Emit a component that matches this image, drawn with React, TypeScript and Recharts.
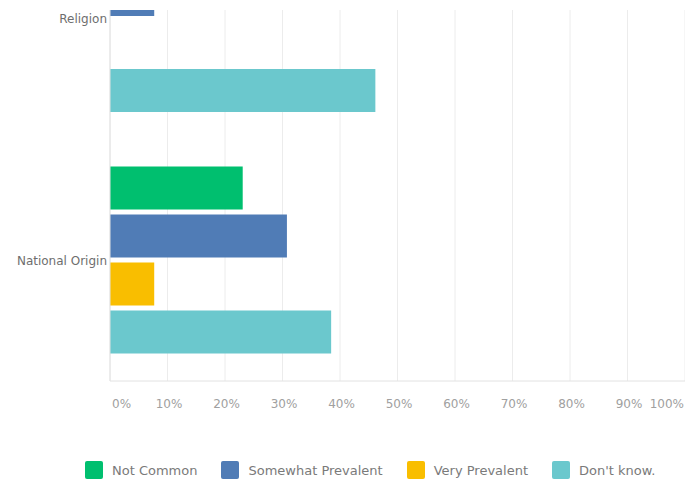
import { BarChart, Bar, XAxis, YAxis, CartesianGrid, Legend } from "recharts";

const categories = ["Religion", "National Origin"];
const notCommon = [46.15, 23.08];
const somewhatPrevalent = [7.69, 30.77];
const veryPrevalent = [0, 7.69];
const dontKnow = [46.15, 38.46];
const xTicks = [0, 10, 20, 30, 40, 50, 60, 70, 80, 90, 100];

const SERIES = [
  { key: "notCommon", name: "Not Common", color: "#00bf6f" },
  { key: "somewhat", name: "Somewhat Prevalent", color: "#507cb6" },
  { key: "very", name: "Very Prevalent", color: "#f9be00" },
  { key: "dontKnow", name: "Don't know.", color: "#6bc8cd" },
];

const data = categories.map((name, i) => ({
  name,
  notCommon: notCommon[i],
  somewhat: somewhatPrevalent[i],
  very: veryPrevalent[i],
  dontKnow: dontKnow[i],
}));

const FONT = "'DejaVu Sans', sans-serif";

function XTick(props: any) {
  const { x, y, payload, index } = props;
  let anchor: "start" | "middle" | "end" = "middle";
  let tx = x + 1.5;
  if (index === 0) {
    anchor = "start";
    tx = x + 2;
  } else if (payload.value === 100) {
    anchor = "end";
    tx = x - 1;
  }
  return (
    <text x={tx} y={y + 27} textAnchor={anchor} fontSize={12} fill="#a0a0a0" fontFamily={FONT}>
      {payload.value}%
    </text>
  );
}

function LegendContent() {
  return (
    <div style={{ display: "flex", alignItems: "center", height: 20, fontFamily: FONT, fontSize: 13, color: "#7a7a7a" }}>
      {SERIES.map((s) => (
        <div key={s.key} style={{ display: "flex", alignItems: "center", marginRight: 24 }}>
          <span
            style={{
              display: "inline-block",
              width: 18,
              height: 18,
              borderRadius: 2,
              background: s.color,
              marginRight: 9,
            }}
          />
          <span style={{ whiteSpace: "nowrap" }}>{s.name}</span>
        </div>
      ))}
    </div>
  );
}

export default function App() {
  return (
    <div
      style={{
        position: "absolute",
        top: 0,
        left: 0,
        width: 685,
        height: 485,
        overflow: "hidden",
        background: "#fff",
      }}
    >
      <div style={{ position: "absolute", top: -102, left: 0 }}>
        <BarChart
          width={685}
          height={587}
          data={data}
          layout="vertical"
          margin={{ top: 0, right: 0, bottom: 5, left: 0 }}
          barGap={5}
          style={{ fontFamily: FONT }}
        >
          <CartesianGrid horizontal={false} stroke="#ececec" />
          <XAxis
            type="number"
            domain={[0, 100]}
            ticks={xTicks}
            interval={0}
            height={79}
            tickSize={0}
            tickMargin={0}
            tickLine={false}
            axisLine={{ stroke: "#e2e2e2" }}
            tick={<XTick />}
          />
          <YAxis
            type="category"
            dataKey="name"
            width={110}
            tickSize={0}
            tickMargin={3}
            tickLine={false}
            axisLine={{ stroke: "#e2e2e2" }}
            tick={{ fontSize: 12, fill: "#6e6e6e", fontFamily: FONT }}
          />
          {SERIES.map((s) => (
            <Bar
              key={s.key}
              dataKey={s.key}
              name={s.name}
              fill={s.color}
              barSize={43}
              isAnimationActive={false}
            />
          ))}
          <Legend
            verticalAlign="bottom"
            content={<LegendContent />}
            wrapperStyle={{ left: 85, width: 600, height: 20 }}
          />
        </BarChart>
      </div>
      {/* the source view is cut off by a white band at the very top */}
      <div
        style={{
          position: "absolute",
          top: 0,
          left: 108,
          width: 577,
          height: 10,
          background: "#fff",
        }}
      />
    </div>
  );
}
